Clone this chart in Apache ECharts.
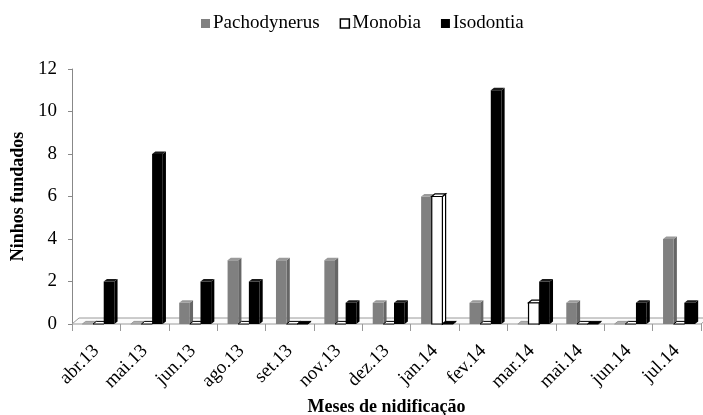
<!DOCTYPE html>
<html>
<head>
<meta charset="utf-8">
<script src="https://cdn.jsdelivr.net/npm/echarts@6/dist/echarts.min.js"></script>
<style>html,body{margin:0;padding:0;background:#fff}#c{width:703px;height:415px}</style>
</head>
<body>
<div id="c"></div>
<script>
const categories = ['abr.13','mai.13','jun.13','ago.13','set.13','nov.13','dez.13','jan.14','fev.14','mar.14','mai.14','jun.14','jul.14'];
const pachodynerus = [0,0,1,3,3,3,1,6,1,0,1,0,4];
const monobia      = [0,0,0,0,0,0,0,6,0,1,0,0,0];
const isodontia    = [2,8,2,2,0,1,1,0,11,2,0,1,1];
const yTicks = {min:0, max:12, interval:2};
const seriesNames = ['Pachodynerus','Monobia','Isodontia'];

const styles = [
  {front:'#808080', side:'#666666', top:'#9a9a9a', stroke:null},
  {front:'#ffffff', side:'#ffffff', top:'#ffffff', stroke:'#000000'},
  {front:'#000000', side:'#000000', top:'#1a1a1a', stroke:null}
];
const FONT = 'Liberation Serif';

function makeRender(si){
  const st = styles[si];
  return function(params, api){
    const k = api.value(0), v = api.value(1);
    const base = api.coord([k, 0]);
    const top = api.coord([k, v]);
    const band = api.size([1, 0])[0];
    const w = band * 0.22, d = 3.2, dy = 2.6;
    const x0 = base[0] - 1.5 * w + 2.2 + si * w;
    const yB = base[1], yT = top[1];
    const sty = (fill) => ({fill: fill, stroke: st.stroke || fill, lineWidth: st.stroke ? 1.2 : 0});
    const children = [];
    if (v > 0) {
      children.push({type:'polygon', shape:{points:[[x0+w,yB],[x0+w+d,yB-dy],[x0+w+d,yT-dy],[x0+w,yT]]}, style: sty(st.side)});
      children.push({type:'rect', shape:{x:x0, y:yT, width:w, height:yB-yT}, style: sty(st.front)});
      children.push({type:'polygon', shape:{points:[[x0,yT],[x0+d,yT-dy],[x0+w+d,yT-dy],[x0+w,yT]]}, style: sty(st.top)});
    } else {
      const f = si === 0 ? '#b0b0b0' : st.front;
      children.push({type:'polygon', shape:{points:[[x0,yB],[x0+d,yB-dy],[x0+w+d,yB-dy],[x0+w,yB]]},
        style:{fill:f, stroke: si===0 ? '#999' : '#000', lineWidth: 1}});
    }
    return {type:'group', children};
  };
}

function floorRender(params, api){
  const cs = params.coordSys;
  const yb = cs.y + cs.height, x = cs.x, w = cs.width;
  return {type:'polygon', shape:{points:[[x,yb],[x+w,yb],[x+w+7,yb-6],[x+7,yb-6]]},
    style:{fill:'#fbfbfb', stroke:'#9a9a9a', lineWidth:1}};
}

const seriesData = [pachodynerus, monobia, isodontia];
const chart = echarts.init(document.getElementById('c'), null, {renderer:'canvas'});
chart.setOption({
  animation:false,
  backgroundColor:'#fff',
  textStyle:{fontFamily:FONT},
  legend:{
    left:196, top:9, itemWidth:9, itemHeight:9, itemGap:20,
    textStyle:{fontFamily:FONT, fontSize:19, color:'#000', padding:[0,0,0,-2]},
    data:[
      {name:seriesNames[0], icon:'rect', itemStyle:{color:'#808080', borderWidth:0}},
      {name:seriesNames[1], icon:'rect', itemStyle:{color:'#fff', borderColor:'#000', borderWidth:1.5}},
      {name:seriesNames[2], icon:'rect', itemStyle:{color:'#000', borderWidth:0}}
    ]
  },
  grid:{left:72, right:2, top:69, bottom:91, containLabel:false, outerBoundsMode:'none'},
  xAxis:{
    type:'category', data:categories,
    axisLine:{show:false},
    axisTick:{show:true, length:7, lineStyle:{color:'#999'}},
    axisLabel:{rotate:45, fontFamily:FONT, fontSize:19, color:'#000', margin:24, interval:0},
    name:'Meses de nidificação', nameLocation:'middle', nameGap:73,
    nameTextStyle:{fontFamily:FONT, fontSize:18, fontWeight:'bold', color:'#000'}
  },
  yAxis:{
    type:'value', min:yTicks.min, max:yTicks.max, interval:yTicks.interval,
    axisLine:{show:true, lineStyle:{color:'#888'}},
    axisTick:{show:true, length:4, lineStyle:{color:'#888'}},
    splitLine:{show:false},
    axisLabel:{fontFamily:FONT, fontSize:19, color:'#000', margin:15},
    name:'Ninhos fundados', nameLocation:'middle', nameGap:39,
    nameTextStyle:{fontFamily:FONT, fontSize:18, fontWeight:'bold', color:'#000'}
  },
  series:[
    {type:'custom', name:'floor', silent:true, z:1, renderItem:floorRender, data:[[0,0]]}
  ].concat(seriesData.map((arr, si) => ({
    type:'custom', name:seriesNames[si], z:2+si, renderItem:makeRender(si),
    itemStyle:{color: styles[si].front},
    data: categories.map((c, k) => [k, arr[k]])
  })))
});
</script>
</body>
</html>
